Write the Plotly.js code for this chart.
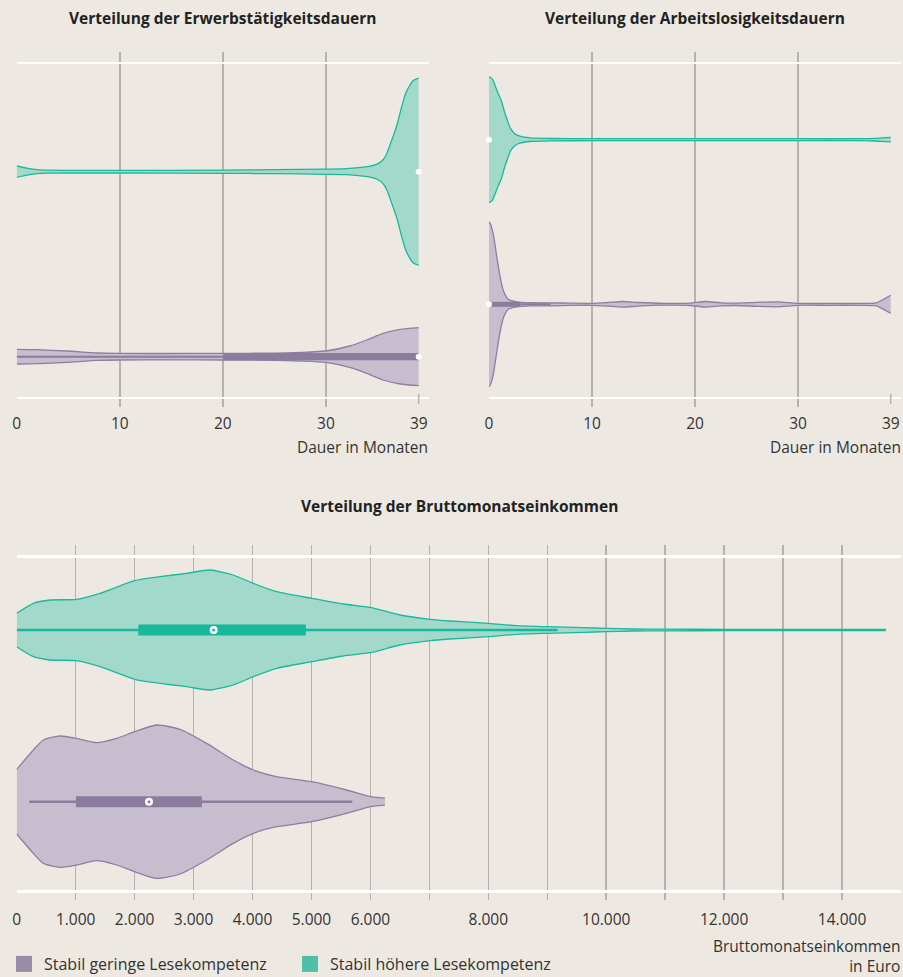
<!DOCTYPE html>
<html>
<head>
<meta charset="utf-8">
<script src="https://cdn.plot.ly/plotly-3.0.1.min.js"></script>
<style>
  html, body { margin: 0; padding: 0; background: #ede9e2; overflow: hidden; }
  #chart { width: 903px; height: 977px; }
</style>
</head>
<body>
<div id="chart"></div>
<script>
// ---------------- DATA ----------------
// Group names
const groups = ["Stabil geringe Lesekompetenz", "Stabil höhere Lesekompetenz"];

// Panel 1: Erwerbstätigkeitsdauern (months) – violin half-widths (density)
const erwHoch_x = [0, 1, 2, 3, 5, 10, 20, 25, 30, 32, 34, 34.9, 35.55, 35.9, 36.4, 36.9, 37.35, 37.8, 38.45, 39];
const erwHoch_d = [5.7, 3.5, 2, 1.5, 1.3, 1.3, 1.6, 2, 2.6, 3, 5, 7.3, 12, 18, 32, 47, 65, 80, 91, 93.5];
const erwGering_x = [0, 2, 4.85, 7.8, 10, 15, 20, 25, 27.5, 30, 32.3, 33.95, 35.55, 37.2, 39];
const erwGering_d = [7.3, 7, 5.7, 3.7, 3.3, 3.2, 3.3, 3.6, 4.3, 5.7, 10.7, 16.7, 23.3, 27.3, 29];
// box stats [whiskerLow, q1, median, q3, whiskerHigh]
const erwHoch_box = [39, 39, 39, 39, 39];
const erwGering_box = [0, 20, 39, 39, 39];

// Panel 2: Arbeitslosigkeitsdauern (months)
const alHoch_x = [0, 0.3, 0.6, 0.9, 1.2, 1.5, 1.8, 2.1, 2.5, 3, 4, 6, 10, 20, 30, 36, 37.5, 38.5, 39];
const alHoch_d = [63, 61, 54, 46, 39, 28, 19, 11, 6, 3.5, 1.8, 1.2, 1, 1, 1, 1, 1.3, 2, 2.2];
const alGering_x = [0, 0.15, 0.42, 0.75, 1.07, 1.4, 1.87, 2.7, 4, 6, 8, 10, 11.5, 13, 14.5, 17, 19.5, 21, 22.5, 24, 26, 28, 30, 33, 36, 37.6, 38.3, 39];
const alGering_d = [82.6, 80, 70, 48, 28, 13.5, 5, 2.5, 1.6, 1.5, 1.1, 1, 1.8, 2.8, 1.8, 0.9, 1.2, 2.8, 1.5, 1.2, 2, 2.5, 1, 1, 1, 1.5, 5, 9];
const alHoch_box = [0, 0, 0, 0, 0];
const alGering_box = [0, 0, 0, 3, 6];

// Panel 3: Bruttomonatseinkommen (Euro)
const ekHoch_x = [0, 283, 565, 1017, 1413, 2000, 2430, 2883, 3278, 3673, 4013, 4409, 5002, 5539, 5997, 6500, 7009, 7348, 8004, 8479, 9000, 9609, 10000, 10459, 11000, 12000, 13000, 14000, 14742];
const ekHoch_d = [16.7, 26.7, 30, 30.7, 36.7, 49.3, 53.3, 56.7, 60, 55, 46.7, 38.3, 31.7, 26, 22.7, 15, 10.7, 9, 6.7, 4.3, 3.3, 2.3, 1.7, 1, 0.8, 0.7, 0.6, 0.5, 0.5];
const ekGering_x = [0, 283, 452, 734, 1017, 1356, 1696, 2000, 2374, 2770, 3222, 3674, 4013, 4409, 5002, 5596, 5997, 6246];
const ekGering_d = [32.3, 51.7, 61.7, 65.7, 63.3, 59, 63.3, 70, 76.7, 72.3, 58.3, 41.7, 31.7, 25, 20, 11.7, 5, 3.5];
const ekHoch_box = [0, 2063, 3340, 4906, 9174];
const ekGering_box = [214, 1006, 2244, 3142, 5691];

// Tick labels
const monthTicks = [0, 10, 20, 30, 40];
const monthTickText = ["0", "10", "20", "30", ""];
const euroTicks = [0, 1000, 2000, 3000, 4000, 5000, 6000, 7000, 8000, 9000, 10000, 11000, 12000, 13000, 14000, 15000];
const euroTickText = ["0", "1.000", "2.000", "3.000", "4.000", "5.000", "6.000", "", "8.000", "", "10.000", "", "12.000", "", "14.000", ""];

// ---------------- STYLE ----------------
const BG = "#ede9e2";
const TEAL_FILL = "#a3d9ca", TEAL_LINE = "#1ab99c", TEAL_BOX = "#17b89d", TEAL_LEG = "#4fc0a8";
const PURP_FILL = "#c6bdcf", PURP_LINE = "#8e7ea0", PURP_BOX = "#8c7b9c", PURP_LEG = "#9a8bab";
const GRID = "#b5b3af";
const FONT = "'Open Sans', 'Noto Sans', sans-serif";

// vertical centres (axis units = px inside plot area)
const C = {
  p1: {hoch: 235.3, gering: 50.3},
  p2: {hoch: 267.3, gering: 102.7},
  p3: {hoch: 270, gering: 98.3}
};

const traces = [];
function violin(xs, ds, c, xa, ya, fill, line) {
  traces.push({type: "scatter", mode: "lines", x: xs, y: ds.map(d => c - d), xaxis: xa, yaxis: ya,
    line: {color: line, width: 1.3, shape: "spline", smoothing: 0.6}, hoverinfo: "skip", showlegend: false});
  traces.push({type: "scatter", mode: "lines", x: xs, y: ds.map(d => c + d), xaxis: xa, yaxis: ya,
    fill: "tonexty", fillcolor: fill,
    line: {color: line, width: 1.3, shape: "spline", smoothing: 0.6}, hoverinfo: "skip", showlegend: false});
}
function box(stats, c, xa, ya, color, boxH, whiskW, dotStyle) {
  const [lo, q1, med, q3, hi] = stats;
  if (hi > lo) {
    traces.push({type: "scatter", mode: "lines", x: [lo, hi], y: [c, c], xaxis: xa, yaxis: ya,
      line: {color: color, width: whiskW}, hoverinfo: "skip", showlegend: false});
  }
  if (q3 > q1) {
    const h = boxH / 2;
    traces.push({type: "scatter", mode: "lines", x: [q1, q3, q3, q1, q1], y: [c - h, c - h, c + h, c + h, c - h],
      xaxis: xa, yaxis: ya, fill: "toself", fillcolor: color, line: {width: 0, color: color},
      hoverinfo: "skip", showlegend: false});
  }
  if (dotStyle === "ring") {
    traces.push({type: "scatter", mode: "markers", x: [med], y: [c], xaxis: xa, yaxis: ya,
      marker: {color: "#ffffff", size: 8, line: {width: 0}}, hoverinfo: "skip", showlegend: false});
    traces.push({type: "scatter", mode: "markers", x: [med], y: [c], xaxis: xa, yaxis: ya,
      marker: {color: color, size: 3, line: {width: 0}}, hoverinfo: "skip", showlegend: false});
  } else {
    traces.push({type: "scatter", mode: "markers", x: [med], y: [c], xaxis: xa, yaxis: ya,
      marker: {color: "#ffffff", size: 6, line: {width: 0}}, hoverinfo: "skip", showlegend: false, cliponaxis: false});
  }
}

// Panel 1
violin(erwHoch_x, erwHoch_d, C.p1.hoch, "x", "y", TEAL_FILL, TEAL_LINE);
violin(erwGering_x, erwGering_d, C.p1.gering, "x", "y", PURP_FILL, PURP_LINE);
box(erwHoch_box, C.p1.hoch, "x", "y", TEAL_BOX, 7, 2, "dot");
box(erwGering_box, C.p1.gering, "x", "y", PURP_BOX, 7.3, 2, "dot");
// Panel 2
violin(alHoch_x, alHoch_d, C.p2.hoch, "x2", "y2", TEAL_FILL, TEAL_LINE);
violin(alGering_x, alGering_d, C.p2.gering, "x2", "y2", PURP_FILL, PURP_LINE);
box(alHoch_box, C.p2.hoch, "x2", "y2", TEAL_BOX, 5, 2, "dot");
box(alGering_box, C.p2.gering, "x2", "y2", PURP_BOX, 5, 2, "dot");
// Panel 3
violin(ekHoch_x, ekHoch_d, C.p3.hoch, "x3", "y3", TEAL_FILL, TEAL_LINE);
violin(ekGering_x, ekGering_d, C.p3.gering, "x3", "y3", PURP_FILL, PURP_LINE);
box(ekHoch_box, C.p3.hoch, "x3", "y3", TEAL_BOX, 11, 2.5, "ring");
box(ekGering_box, C.p3.gering, "x3", "y3", PURP_BOX, 11, 2.5, "ring");

// Legend entries
traces.push({type: "scatter", mode: "markers", x: [null], y: [null], xaxis: "x3", yaxis: "y3",
  name: groups[0], marker: {symbol: "square", size: 16, color: PURP_LEG}, showlegend: true});
traces.push({type: "scatter", mode: "markers", x: [null], y: [null], xaxis: "x3", yaxis: "y3",
  name: groups[1], marker: {symbol: "square", size: 16, color: TEAL_LEG}, showlegend: true});

const W = 903, H = 977;
const px = v => v / W, py = v => 1 - v / H;

function xax(domain, range, tv, tt, standoff) {
  return {domain: domain, range: range, tickmode: "array", tickvals: tv, ticktext: tt,
    showgrid: true, gridcolor: GRID, gridwidth: 1.5, zeroline: false, showline: false, ticks: "",
    ticklabelstandoff: standoff,
    tickfont: {family: FONT, size: 15.5, color: "#333"}, fixedrange: true};
}
function yax(domain, whites) {
  return {domain: domain, range: [0, 355], tickmode: "array", tickvals: whites, showticklabels: false,
    showgrid: true, gridcolor: "#ffffff", gridwidth: 2.5, zeroline: false, showline: false, ticks: "", fixedrange: true};
}

const titleFont = {family: FONT, size: 15.5, color: "#222", weight: "bold"};
const labFont = {family: FONT, size: 15.5, color: "#333"};

const layout = {
  width: W, height: H,
  paper_bgcolor: BG, plot_bgcolor: BG,
  margin: {l: 0, r: 0, t: 0, b: 0, pad: 0, autoexpand: false},
  font: {family: FONT, color: "#333"},
  xaxis: xax([px(16.7), px(429)], [0, 40], monthTicks, monthTickText, 5),
  yaxis: yax([py(407), py(52)], [9, 344]),
  xaxis2: Object.assign(xax([px(489), px(901)], [0, 40], monthTicks, monthTickText, 5), {anchor: "y2"}),
  yaxis2: Object.assign(yax([py(407), py(52)], [9, 344]), {anchor: "x2"}),
  xaxis3: Object.assign(xax([px(16.7), px(901)], [0, 15000], euroTicks, euroTickText, 8), {anchor: "y3"}),
  yaxis3: Object.assign(yax([py(900), py(545)], [8.3, 343.3]), {anchor: "x3"}),
  showlegend: true,
  legend: {orientation: "h", x: px(4), xanchor: "left", y: py(964), yanchor: "middle", traceorder: "normal",
    font: {family: FONT, size: 16, color: "#333"}, entrywidth: 241, entrywidthmode: "pixels",
    bgcolor: "rgba(0,0,0,0)", itemclick: false, itemdoubleclick: false},
  shapes: [
    {type: "line", xref: "x", yref: "y", x0: 39, x1: 39, y0: 3, y1: 13, line: {color: GRID, width: 1.5}},
    {type: "line", xref: "x2", yref: "y2", x0: 39, x1: 39, y0: 3, y1: 13, line: {color: GRID, width: 1.5}}
  ],
  annotations: [
    {text: "<b>Verteilung der Erwerbstätigkeitsdauern</b>", xref: "paper", yref: "paper", x: px(222.9), y: py(18),
      xanchor: "center", yanchor: "middle", showarrow: false, font: titleFont},
    {text: "<b>Verteilung der Arbeitslosigkeitsdauern</b>", xref: "paper", yref: "paper", x: px(695), y: py(18),
      xanchor: "center", yanchor: "middle", showarrow: false, font: titleFont},
    {text: "<b>Verteilung der Bruttomonatseinkommen</b>", xref: "paper", yref: "paper", x: px(459), y: py(506),
      xanchor: "center", yanchor: "middle", showarrow: false, font: titleFont},
    {text: "39", xref: "x", yref: "paper", x: 39, y: py(423), xanchor: "center", yanchor: "middle", showarrow: false, font: labFont},
    {text: "39", xref: "x2", yref: "paper", x: 39, y: py(423), xanchor: "center", yanchor: "middle", showarrow: false, font: labFont},
    {text: "Dauer in Monaten", xref: "paper", yref: "paper", x: px(430), y: py(447), xanchor: "right", yanchor: "middle", showarrow: false, font: labFont},
    {text: "Dauer in Monaten", xref: "paper", yref: "paper", x: px(903), y: py(447), xanchor: "right", yanchor: "middle", showarrow: false, font: labFont},
    {text: "Bruttomonatseinkommen<br>in Euro", xref: "paper", yref: "paper", x: px(902), y: py(956), xanchor: "right", yanchor: "middle",
      align: "right", showarrow: false, font: labFont}
  ]
};

Plotly.newPlot("chart", traces, layout, {displayModeBar: false, staticPlot: true});
</script>
</body>
</html>
